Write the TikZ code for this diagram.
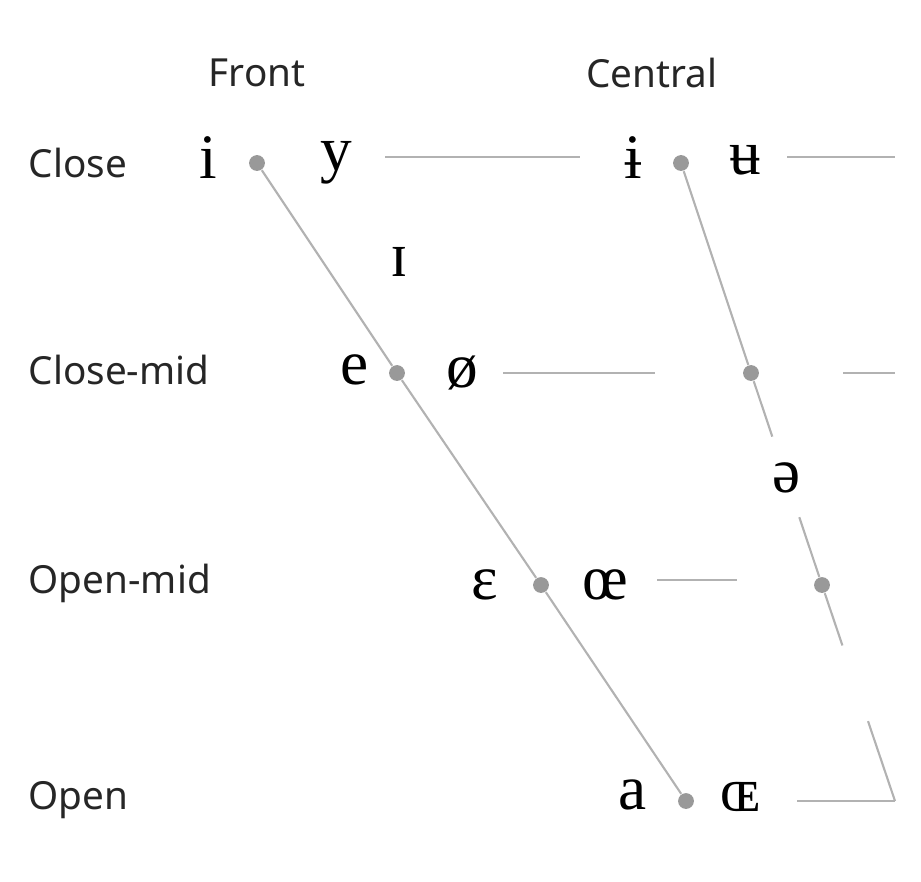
\documentclass[tikz,border=0pt]{standalone}
\usepackage{fontspec}
\usetikzlibrary{calc}
\setmainfont{Liberation Serif}
\newfontfamily\labelfont{Noto Sans}
\begin{document}
\begin{tikzpicture}[x=0.01cm,y=-0.01cm]
            \tikzset{dot/.style={circle,fill=gray!80,inner sep=0pt,minimum size=4.5pt},
                     vow/.style={inner sep=0pt,font=\fontsize{18}{18}\selectfont},
                     lab/.style={inner sep=0pt,font=\labelfont\fontsize{11}{12}\selectfont,text=black!85},
                     ln/.style={draw=gray!60,line width=0.6pt}}
            \useasboundingbox (0,0) rectangle (921,881);
            % column heads and rows
            \node [lab] (front) at (257,73) {Front};
            \node [lab] (central) at (652,73) {Central};
            \node [lab,anchor=west] (close) at (28,163) {Close};
            \node [lab,anchor=west] (closemid) at (28,370) {Close-mid};
            \node [lab,anchor=west] (openmid) at (28,583) {Open-mid};
            \node [lab,anchor=west] (open) at (28,800) {Open};
            % dots
            \node [dot] (d1) at (257,163) {};
            \node [dot] (d2) at (397,373) {};
            \node [dot] (d3) at (541,585) {};
            \node [dot] (d4) at (686,801) {};
            \node [dot] (c1) at (681,163) {};
            \node [dot] (c2) at (751,373) {};
            \node [dot] (c3) at (822,585) {};
            \coordinate (c4) at (895,801);
            % slanted lines
            \draw [ln] (d1) -- (d2) -- (d3) -- (d4);
            \draw [ln] (c1) -- (c2) -- ($(c2)!0.3!(c3)$);
            \draw [ln] ($(c2)!0.68!(c3)$) -- (c3) -- ($(c3)!0.28!(c4)$);
            \draw [ln] ($(c3)!0.63!(c4)$) -- (c4);
            % horizontal lines
            \coordinate (h1a) at (385,157); \coordinate (h1b) at (580,157);
            \coordinate (h1c) at (787,157); \coordinate (h1d) at (895,157);
            \coordinate (h2a) at (503,373); \coordinate (h2b) at (655,373);
            \coordinate (h2c) at (843,373); \coordinate (h2d) at (895,373);
            \coordinate (h3a) at (657,580); \coordinate (h3b) at (737,580);
            \coordinate (h4a) at (797,801);
            \draw [ln] (h1a) -- (h1b);
            \draw [ln] (h1c) -- (h1d);
            \draw [ln] (h2a) -- (h2b);
            \draw [ln] (h2c) -- (h2d);
            \draw [ln] (h3a) -- (h3b);
            \draw [ln] (h4a) -- (c4);
            % vowels
            \node [vow] (vi) at (208,158) {i};
            \node [vow] (vy) at (336,163) {y};
            \node [vow] (vbi) at (633,158) {ɨ};
            \node [vow] (vbu) at (745,160) {ʉ};
            \node [vow] (vsi) at (399,262) {ɪ};
            \node [vow] (ve) at (355,370) {e};
            \node [vow] (voe) at (462,373) {ø};
            \node [vow] (vschwa) at (787,478) {ə};
            \node [vow] (veps) at (485,585) {ɛ};
            \node [vow] (voel) at (605,585) {œ};
            \node [vow] (va) at (633,795) {a};
            \node [vow] (voec) at (740,797) {ɶ};
        \end{tikzpicture}
\end{document}
